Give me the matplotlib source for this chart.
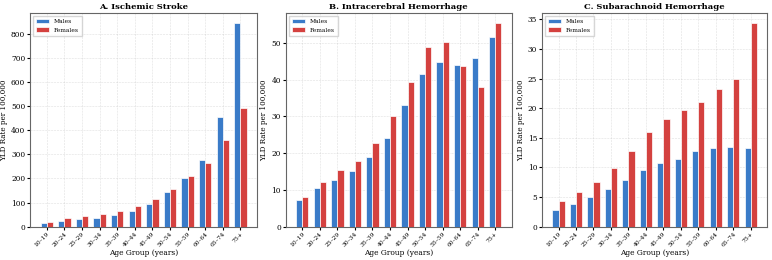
import matplotlib
matplotlib.use('Agg')
import matplotlib.pyplot as plt
import numpy as np

ages = ['10–19', '20–24', '25–29', '30–34', '35–39', '40–44',
        '45–49', '50–54', '55–59', '60–64', '65–74', '75+']

isch_m = [15, 22, 30, 38, 48, 67, 95, 142, 203, 278, 455, 842]
isch_f = [20, 35, 45, 53, 67, 87, 115, 157, 210, 265, 360, 492]
ich_m = [7.3, 10.4, 12.6, 15.2, 18.9, 24.2, 33.0, 41.5, 44.7, 44.1, 46.0, 51.7]
ich_f = [8.1, 12.2, 15.4, 18.0, 22.7, 30.1, 39.3, 49.0, 50.2, 43.8, 38.0, 55.3]
sah_m = [2.8, 3.9, 5.0, 6.3, 7.9, 9.6, 10.8, 11.5, 12.8, 13.2, 13.5, 13.3]
sah_f = [4.3, 5.9, 7.6, 9.9, 12.7, 16.0, 18.2, 19.7, 21.0, 23.3, 25.0, 34.3]

titles = ['A. Ischemic Stroke', 'B. Intracerebral Hemorrhage', 'C. Subarachnoid Hemorrhage']
panels = [(isch_m, isch_f), (ich_m, ich_f), (sah_m, sah_f)]

plt.rcParams['font.family'] = 'DejaVu Serif'

fig = plt.figure(figsize=(7.72, 2.6), dpi=100)
lefts = [0.039, 0.370, 0.702]
widths = [0.294, 0.293, 0.292]

x = np.arange(len(ages))
w = 0.35
for i, (m, f) in enumerate(panels):
    ax = fig.add_axes([lefts[i], 0.128, widths[i], 0.821])
    ax.bar(x - w/2, m, w, color='#3a7bc8', edgecolor='white', linewidth=0.5, label='Males', zorder=3)
    ax.bar(x + w/2, f, w, color='#d4413f', edgecolor='white', linewidth=0.5, label='Females', zorder=3)
    ax.set_xticks(x)
    ax.set_xticklabels(ages, rotation=45, ha='right', rotation_mode='anchor', fontsize=4.3)
    ax.tick_params(axis='y', labelsize=5.3, length=2, pad=1.5)
    ax.tick_params(axis='x', length=2, pad=1.5)
    ax.set_xlabel('Age Group (years)', fontsize=5.4, labelpad=1)
    ax.set_ylabel('YLD Rate per 100,000', fontsize=5.2, labelpad=2)
    ax.set_title(titles[i], fontsize=6.0, fontweight='bold', pad=3)
    ax.grid(True, linestyle='--', linewidth=0.4, alpha=0.4, zorder=0)
    ax.set_xlim(-0.95, 11.95)
    for s in ax.spines.values():
        s.set_color('#666666')
        s.set_linewidth(0.8)
    ax.legend(loc='upper left', fontsize=4.3, frameon=True, fancybox=False,
              edgecolor='#cccccc', handlelength=2.2, borderpad=0.5)

plt.savefig('out.png', dpi=100)
